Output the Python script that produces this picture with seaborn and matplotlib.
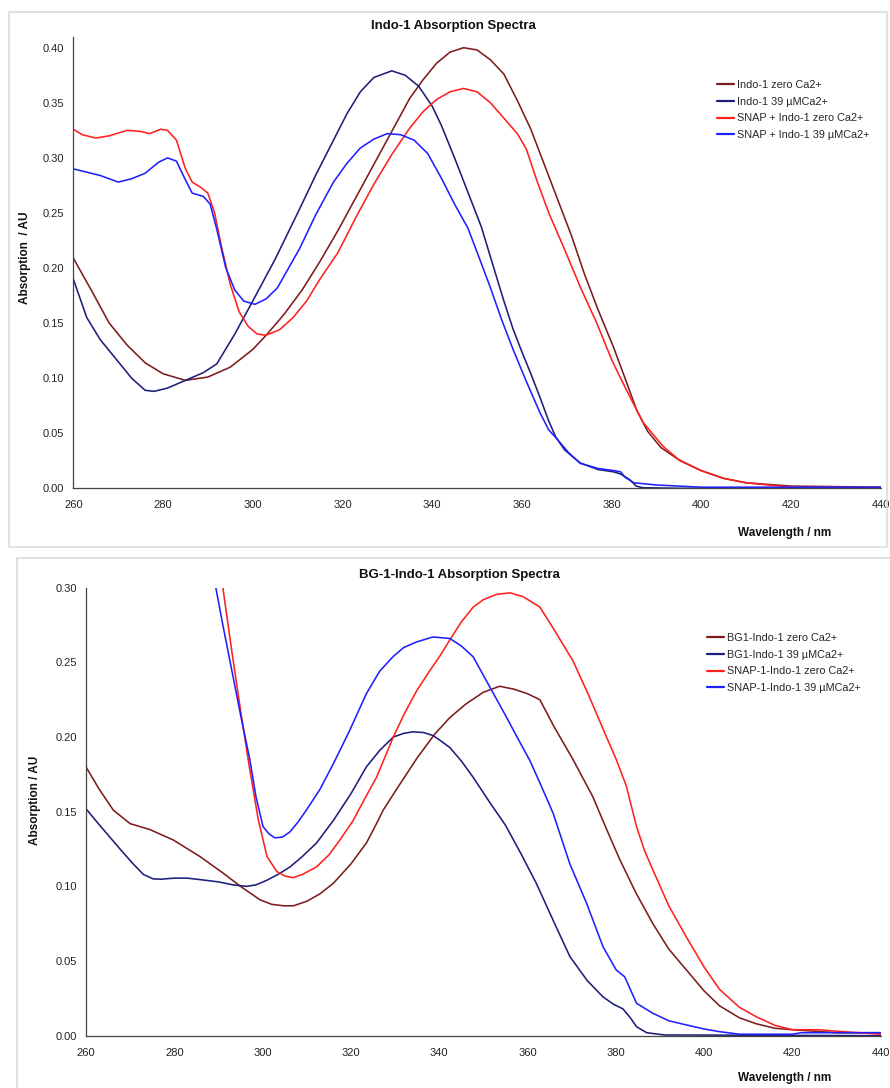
import numpy as np
import pandas as pd
import matplotlib
matplotlib.use("Agg")
import matplotlib.pyplot as plt
from matplotlib.patches import Rectangle
from matplotlib.lines import Line2D
import seaborn as sns

# ---------------- data: top panel (Indo-1) ----------------
top_labels = ["Indo-1 zero Ca2+", "Indo-1 39 µMCa2+",
              "SNAP + Indo-1 zero Ca2+", "SNAP + Indo-1 39 µMCa2+"]

wl_indo_zero = [260, 264, 268, 272, 276, 280, 285, 290, 295, 300, 303, 307, 311, 315, 319, 323, 327,
                331, 335, 338, 341, 344, 347, 350, 353, 356, 359, 362, 365, 368, 371, 374, 377, 380.4,
                383, 385.6, 388, 391, 395.3, 400, 405, 410, 420, 440]
ab_indo_zero = [0.209, 0.180, 0.150, 0.130, 0.114, 0.104, 0.098, 0.101, 0.110, 0.126, 0.139, 0.158,
                0.180, 0.206, 0.234, 0.264, 0.294, 0.324, 0.354, 0.371, 0.386, 0.396, 0.400, 0.398,
                0.389, 0.376, 0.352, 0.326, 0.294, 0.262, 0.230, 0.194, 0.162, 0.1285, 0.100, 0.071,
                0.052, 0.037, 0.025, 0.016, 0.009, 0.005, 0.002, 0.001]

wl_indo_ca = [260, 263, 266, 270, 273, 276, 278, 281, 285, 289, 292, 296, 300, 305, 310.5, 314, 318,
              321, 324, 327, 331, 334, 337, 340, 342, 345, 349, 351, 353, 356, 358, 360, 362, 364,
              366, 367.5, 369.5, 373, 377, 380.4, 382, 384, 385.5, 387, 395, 440]
ab_indo_ca = [0.190, 0.155, 0.135, 0.115, 0.100, 0.089, 0.088, 0.091, 0.098, 0.105, 0.113, 0.140,
              0.170, 0.208, 0.254, 0.284, 0.316, 0.340, 0.360, 0.373, 0.379, 0.375, 0.365, 0.347,
              0.330, 0.300, 0.258, 0.237, 0.210, 0.170, 0.145, 0.124, 0.104, 0.083, 0.061, 0.047,
              0.035, 0.023, 0.017, 0.015, 0.013, 0.008, 0.002, 0.0005, 0.0, 0.0]

wl_snap_zero = [260, 262, 265, 268, 272, 275, 277, 279.5, 281, 283, 285, 286.5, 288.5, 290, 291.5,
                293, 295, 297, 299, 301, 303, 306, 309, 312, 315, 319, 323, 327, 331, 335, 338, 341,
                344, 347, 350, 353, 356, 359, 361, 363.3, 366, 369.3, 373, 376.7, 380, 382, 384.1,
                387, 391.5, 395, 400, 405, 410, 420, 440]
ab_snap_zero = [0.326, 0.321, 0.318, 0.320, 0.325, 0.324, 0.322, 0.326, 0.325, 0.316, 0.290, 0.278,
                0.273, 0.268, 0.250, 0.220, 0.185, 0.160, 0.147, 0.140, 0.139, 0.144, 0.155, 0.170,
                0.190, 0.214, 0.246, 0.276, 0.303, 0.327, 0.342, 0.353, 0.360, 0.363, 0.360, 0.350,
                0.336, 0.322, 0.308, 0.280, 0.250, 0.219, 0.183, 0.150, 0.117, 0.100, 0.083, 0.060,
                0.038, 0.026, 0.016, 0.009, 0.005, 0.001, 0.001]

wl_snap_ca = [260, 263, 266, 270, 273, 276, 279, 281, 283, 285, 286.5, 289, 290.5, 292, 294, 296, 298,
              300.5, 303, 305.5, 308, 310.5, 314, 318, 321, 324, 327, 330, 333, 336, 339, 342, 345,
              348, 350.7, 353, 355.5, 358.1, 361, 364, 366, 368, 370.5, 373, 377, 380.6, 382, 383,
              385, 390, 395, 400, 440]
ab_snap_ca = [0.290, 0.287, 0.284, 0.278, 0.281, 0.286, 0.296, 0.300, 0.297, 0.280, 0.268, 0.265,
              0.258, 0.235, 0.200, 0.180, 0.170, 0.167, 0.172, 0.182, 0.200, 0.218, 0.248, 0.278,
              0.295, 0.309, 0.317, 0.322, 0.321, 0.316, 0.304, 0.282, 0.258, 0.236, 0.207, 0.182,
              0.153, 0.1255, 0.097, 0.069, 0.053, 0.044, 0.032, 0.0227, 0.018, 0.016, 0.015, 0.010,
              0.005, 0.003, 0.002, 0.001, 0.001]

# ---------------- data: bottom panel (BG-1-Indo-1) ----------------
bot_labels = ["BG1-Indo-1 zero Ca2+", "BG1-Indo-1 39 µMCa2+",
              "SNAP-1-Indo-1 zero Ca2+", "SNAP-1-Indo-1 39 µMCa2+"]

wl_bg_zero = [260, 263, 266.2, 270, 274.5, 279.8, 285.8, 291, 295, 299.4, 302, 304.7, 307, 310, 313,
              316, 320, 323.5, 325.8, 327.3, 331, 335, 339, 342.4, 346, 350, 353.7, 357, 360, 362.8,
              366, 370.3, 374.8, 377.8, 380.9, 384.5, 388.4, 392, 396, 400, 403.5, 408, 411.8, 416,
              420, 425, 430, 440]
ab_bg_zero = [0.180, 0.165, 0.151, 0.142, 0.138, 0.131, 0.120, 0.109, 0.100, 0.091, 0.088, 0.087,
              0.087, 0.090, 0.095, 0.102, 0.115, 0.129, 0.142, 0.151, 0.168, 0.186, 0.202, 0.213,
              0.222, 0.230, 0.234, 0.232, 0.229, 0.225, 0.207, 0.185, 0.160, 0.139, 0.118, 0.096,
              0.075, 0.058, 0.044, 0.030, 0.020, 0.012, 0.008, 0.005, 0.004, 0.003, 0.002, 0.002]

wl_bg_ca = [260, 262.5, 265.4, 268, 270.7, 273, 275.2, 277, 280, 283, 287.3, 290, 293.3, 296.4, 298.5,
            300.9, 303.5, 306.2, 309, 312.2, 316, 320, 323.5, 326.5, 329.6, 332, 334.1, 336.5, 338.6,
            340.1, 342.4, 345, 347.7, 351.5, 355, 358.5, 362, 366, 369.6, 373.5, 377.1, 379.5,
            381.6, 383.3, 384.7, 387, 391, 440]
ab_bg_ca = [0.152, 0.143, 0.133, 0.124, 0.115, 0.108, 0.105, 0.1048, 0.1055, 0.1055, 0.104, 0.103,
            0.101, 0.100, 0.101, 0.104, 0.108, 0.113, 0.120, 0.129, 0.144, 0.162, 0.180, 0.191,
            0.200, 0.2025, 0.2035, 0.203, 0.201, 0.198, 0.193, 0.184, 0.173, 0.156, 0.141, 0.122,
            0.102, 0.076, 0.053, 0.037, 0.026, 0.021, 0.018, 0.012, 0.006, 0.002, 0.0005, 0.0]

wl_snap1_zero = [291, 293, 295, 297, 299, 301, 303.2, 305, 306.9, 309, 312.2, 315, 317.5, 320.5, 323,
                 325.8, 327.5, 329.6, 332, 334.9, 338, 340.1, 342.4, 345, 347.7, 350, 353, 356, 359,
                 362.8, 366, 370.3, 374, 377.9, 380.1, 382.4, 384.7, 386.5, 388.4, 392, 396, 400,
                 403.5, 408, 411.8, 416, 420, 423, 426, 430, 435, 440]
ab_snap1_zero = [0.300, 0.258, 0.218, 0.180, 0.145, 0.120, 0.110, 0.107, 0.1058, 0.108, 0.113, 0.121,
                 0.131, 0.144, 0.158, 0.173, 0.185, 0.200, 0.215, 0.231, 0.245, 0.254, 0.265, 0.277,
                 0.287, 0.292, 0.2955, 0.2966, 0.294, 0.287, 0.272, 0.251, 0.227, 0.200, 0.185,
                 0.167, 0.140, 0.124, 0.111, 0.087, 0.066, 0.046, 0.031, 0.019, 0.0127, 0.007, 0.004,
                 0.004, 0.004, 0.003, 0.002, 0.001]

wl_snap1_ca = [289.4, 291, 292.6, 295, 297.1, 298.5, 300.1, 301.5, 302.8, 304.5, 306.2, 308, 309.9,
               313, 316, 319.5, 323.5, 326.5, 329.6, 332, 334.9, 338.6, 342.4, 345, 347.7, 351,
               355.2, 358, 360.5, 363, 365.8, 369.6, 373.4, 377.1, 380.1, 382, 383.3, 384.7, 388.4,
               392, 396, 400, 403.5, 408, 420, 422, 440]
ab_snap1_ca = [0.300, 0.275, 0.251, 0.215, 0.185, 0.160, 0.140, 0.135, 0.1325, 0.133, 0.1365, 0.143,
               0.151, 0.165, 0.182, 0.203, 0.229, 0.244, 0.254, 0.260, 0.2637, 0.267, 0.266, 0.261,
               0.2537, 0.236, 0.2135, 0.198, 0.1845, 0.168, 0.149, 0.115, 0.0886, 0.0596, 0.044,
               0.0395, 0.031, 0.0217, 0.015, 0.010, 0.0072, 0.0045, 0.0027, 0.001, 0.001, 0.002,
               0.002]

x_ticks = [260, 280, 300, 320, 340, 360, 380, 400, 420, 440]

colors = ["#7d1c1c", "#1e1e7a", "#ff2020", "#2020ff"]

# ---------------- build tables ----------------
def long_table(labels, wls, vals):
    frames = []
    for lab, w, v in zip(labels, wls, vals):
        frames.append(pd.DataFrame({"Wavelength": w, "Absorption": v, "Series": lab}))
    return pd.concat(frames, ignore_index=True)

df_top = long_table(top_labels,
                    [wl_indo_zero, wl_indo_ca, wl_snap_zero, wl_snap_ca],
                    [ab_indo_zero, ab_indo_ca, ab_snap_zero, ab_snap_ca])
df_bot = long_table(bot_labels,
                    [wl_bg_zero, wl_bg_ca, wl_snap1_zero, wl_snap1_ca],
                    [ab_bg_zero, ab_bg_ca, ab_snap1_zero, ab_snap1_ca])

# ---------------- figure ----------------
sns.set_theme(style="white")
plt.rcParams["font.family"] = ["Liberation Sans", "DejaVu Sans"]

W, H = 890, 1088
fig = plt.figure(figsize=(W / 100, H / 100), dpi=100)
fig.patch.set_facecolor("white")

def fx(px):
    return px / W

def fy(py):
    return 1 - py / H

# panel frames
fig.patches.append(Rectangle((fx(9), fy(547)), fx(878), 535 / H, transform=fig.transFigure,
                             fill=False, edgecolor="#dcdcdc", linewidth=1.2))
fig.patches.append(Rectangle((fx(17), fy(1095)), fx(880), 537 / H, transform=fig.transFigure,
                             fill=False, edgecolor="#dcdcdc", linewidth=1.2))

ax1 = fig.add_axes([fx(73.3), fy(488.3), fx(880.7 - 73.3), (488.3 - 36.7) / H])
ax2 = fig.add_axes([fx(86), fy(1035.7), fx(880.7 - 86), (1035.7 - 587.7) / H])


def draw(ax, df, labels, ymax, yticks):
    pal = dict(zip(labels, colors))
    sns.lineplot(data=df, x="Wavelength", y="Absorption", hue="Series", hue_order=labels,
                 palette=pal, estimator=None, sort=False, linewidth=1.15, ax=ax, legend=False)
    ax.set_xlim(260, 440)
    ax.set_ylim(0, ymax)
    ax.set_xticks(x_ticks)
    ax.set_yticks(yticks)
    ax.set_yticklabels([f"{t:.2f}" for t in yticks])
    ax.set_xlabel("")
    ax.set_ylabel("")
    for s in ["top", "right"]:
        ax.spines[s].set_visible(False)
    for s in ["left", "bottom"]:
        ax.spines[s].set_color("#444444")
        ax.spines[s].set_linewidth(0.9)
    ax.tick_params(axis="both", which="major", direction="out", length=3.5, width=0.8,
                   color="#444444", labelsize=8, labelcolor="#222222", pad=3)
    ax.tick_params(axis="x", pad=5)
    ax.set_facecolor("white")
    ax.grid(False)


draw(ax1, df_top, top_labels, 0.41, [0.0, 0.05, 0.10, 0.15, 0.20, 0.25, 0.30, 0.35, 0.40])
draw(ax2, df_bot, bot_labels, 0.30, [0.0, 0.05, 0.10, 0.15, 0.20, 0.25, 0.30])

# titles and axis labels
fig.text(fx(453), fy(26), "Indo-1 Absorption Spectra", ha="center", va="center",
         fontsize=9.5, fontweight="bold", color="#111111")
fig.text(fx(459), fy(575), "BG-1-Indo-1 Absorption Spectra", ha="center", va="center",
         fontsize=9.5, fontweight="bold", color="#111111")
fig.text(fx(25), fy(258), "Absorption  / AU", ha="center", va="center", rotation=90,
         fontsize=8.5, fontweight="bold", color="#111111")
fig.text(fx(35), fy(800), "Absorption / AU", ha="center", va="center", rotation=90,
         fontsize=8.5, fontweight="bold", color="#111111")
fig.text(fx(785), fy(533), "Wavelength / nm", ha="center", va="center",
         fontsize=8.5, fontweight="bold", color="#111111")
fig.text(fx(785), fy(1078), "Wavelength / nm", ha="center", va="center",
         fontsize=8.5, fontweight="bold", color="#111111")

# legends
def add_legend(ax, labels, x0, y0):
    handles = [Line2D([0], [0], color=c, lw=1.6) for c in colors]
    ax.legend(handles, labels, loc="upper left", bbox_to_anchor=(fx(x0), fy(y0)),
              bbox_transform=fig.transFigure, frameon=False, fontsize=7.8,
              handlelength=1.6, handletextpad=0.25, labelspacing=0.62,
              borderpad=0, borderaxespad=0)

add_legend(ax1, top_labels, 717, 80)
add_legend(ax2, bot_labels, 707, 633)

fig.savefig("out.png", dpi=100, facecolor="white")
